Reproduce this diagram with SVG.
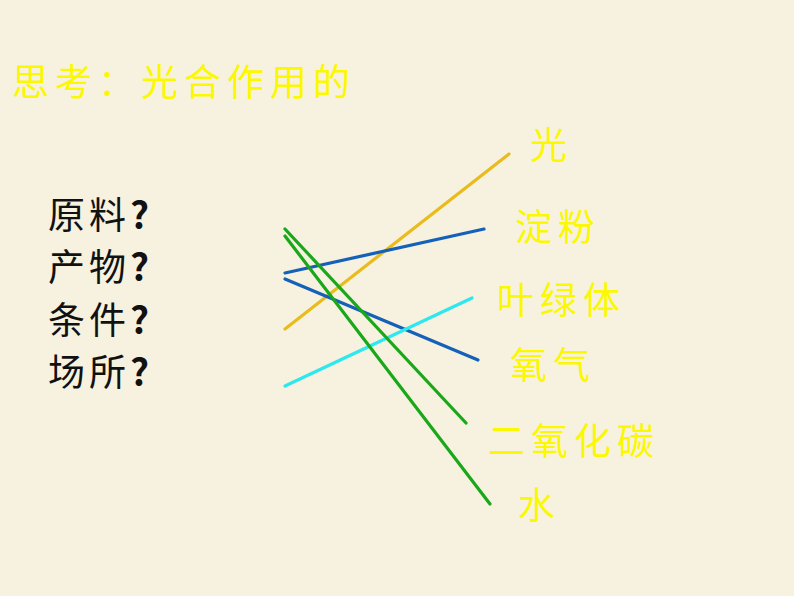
<svg xmlns="http://www.w3.org/2000/svg" width="794" height="596" viewBox="0 0 794 596">
<style>
.y{font-family:"Noto Sans CJK SC","Noto Sans CJK JP",sans-serif;font-size:37px;fill:#fbf800;letter-spacing:6px}
.k{font-family:"Noto Sans CJK SC","Noto Sans CJK JP",sans-serif;font-size:37px;fill:#111;letter-spacing:4px}
.q{font-weight:bold}
.c line{stroke-width:3.2;stroke-linecap:round;fill:none}
</style>
<rect width="794" height="596" fill="#f6f2df"/>
<g id="title"><text class="y" x="12" y="96">思考：光合作用的</text></g>
<g id="q1"><text class="k" x="48" y="229">原料<tspan class="q">?</tspan></text></g>
<g id="q2"><text class="k" x="48" y="281">产物<tspan class="q">?</tspan></text></g>
<g id="q3"><text class="k" x="48" y="334">条件<tspan class="q">?</tspan></text></g>
<g id="q4"><text class="k" x="48" y="386">场所<tspan class="q">?</tspan></text></g>
<g id="a1"><text class="y" x="530" y="159">光</text></g>
<g id="a2"><text class="y" x="515" y="241">淀粉</text></g>
<g id="a3"><text class="y" x="497" y="314">叶绿体</text></g>
<g id="a4"><text class="y" x="510" y="379">氧气</text></g>
<g id="a5"><text class="y" x="488" y="455">二氧化碳</text></g>
<g id="a6"><text class="y" x="518" y="519">水</text></g>
<g id="connectors" class="c">
<line x1="285" y1="329" x2="509" y2="154" stroke="#eabb1c"/>
<line x1="285" y1="273" x2="484" y2="229" stroke="#1560b8"/>
<line x1="285" y1="279" x2="478" y2="360" stroke="#1560b8"/>
<line x1="285" y1="386" x2="472" y2="298" stroke="#2de8ee"/>
<line x1="285" y1="229" x2="466" y2="423" stroke="#1aa81a"/>
<line x1="285" y1="236" x2="490" y2="504" stroke="#1aa81a"/>
</g>
</svg>
